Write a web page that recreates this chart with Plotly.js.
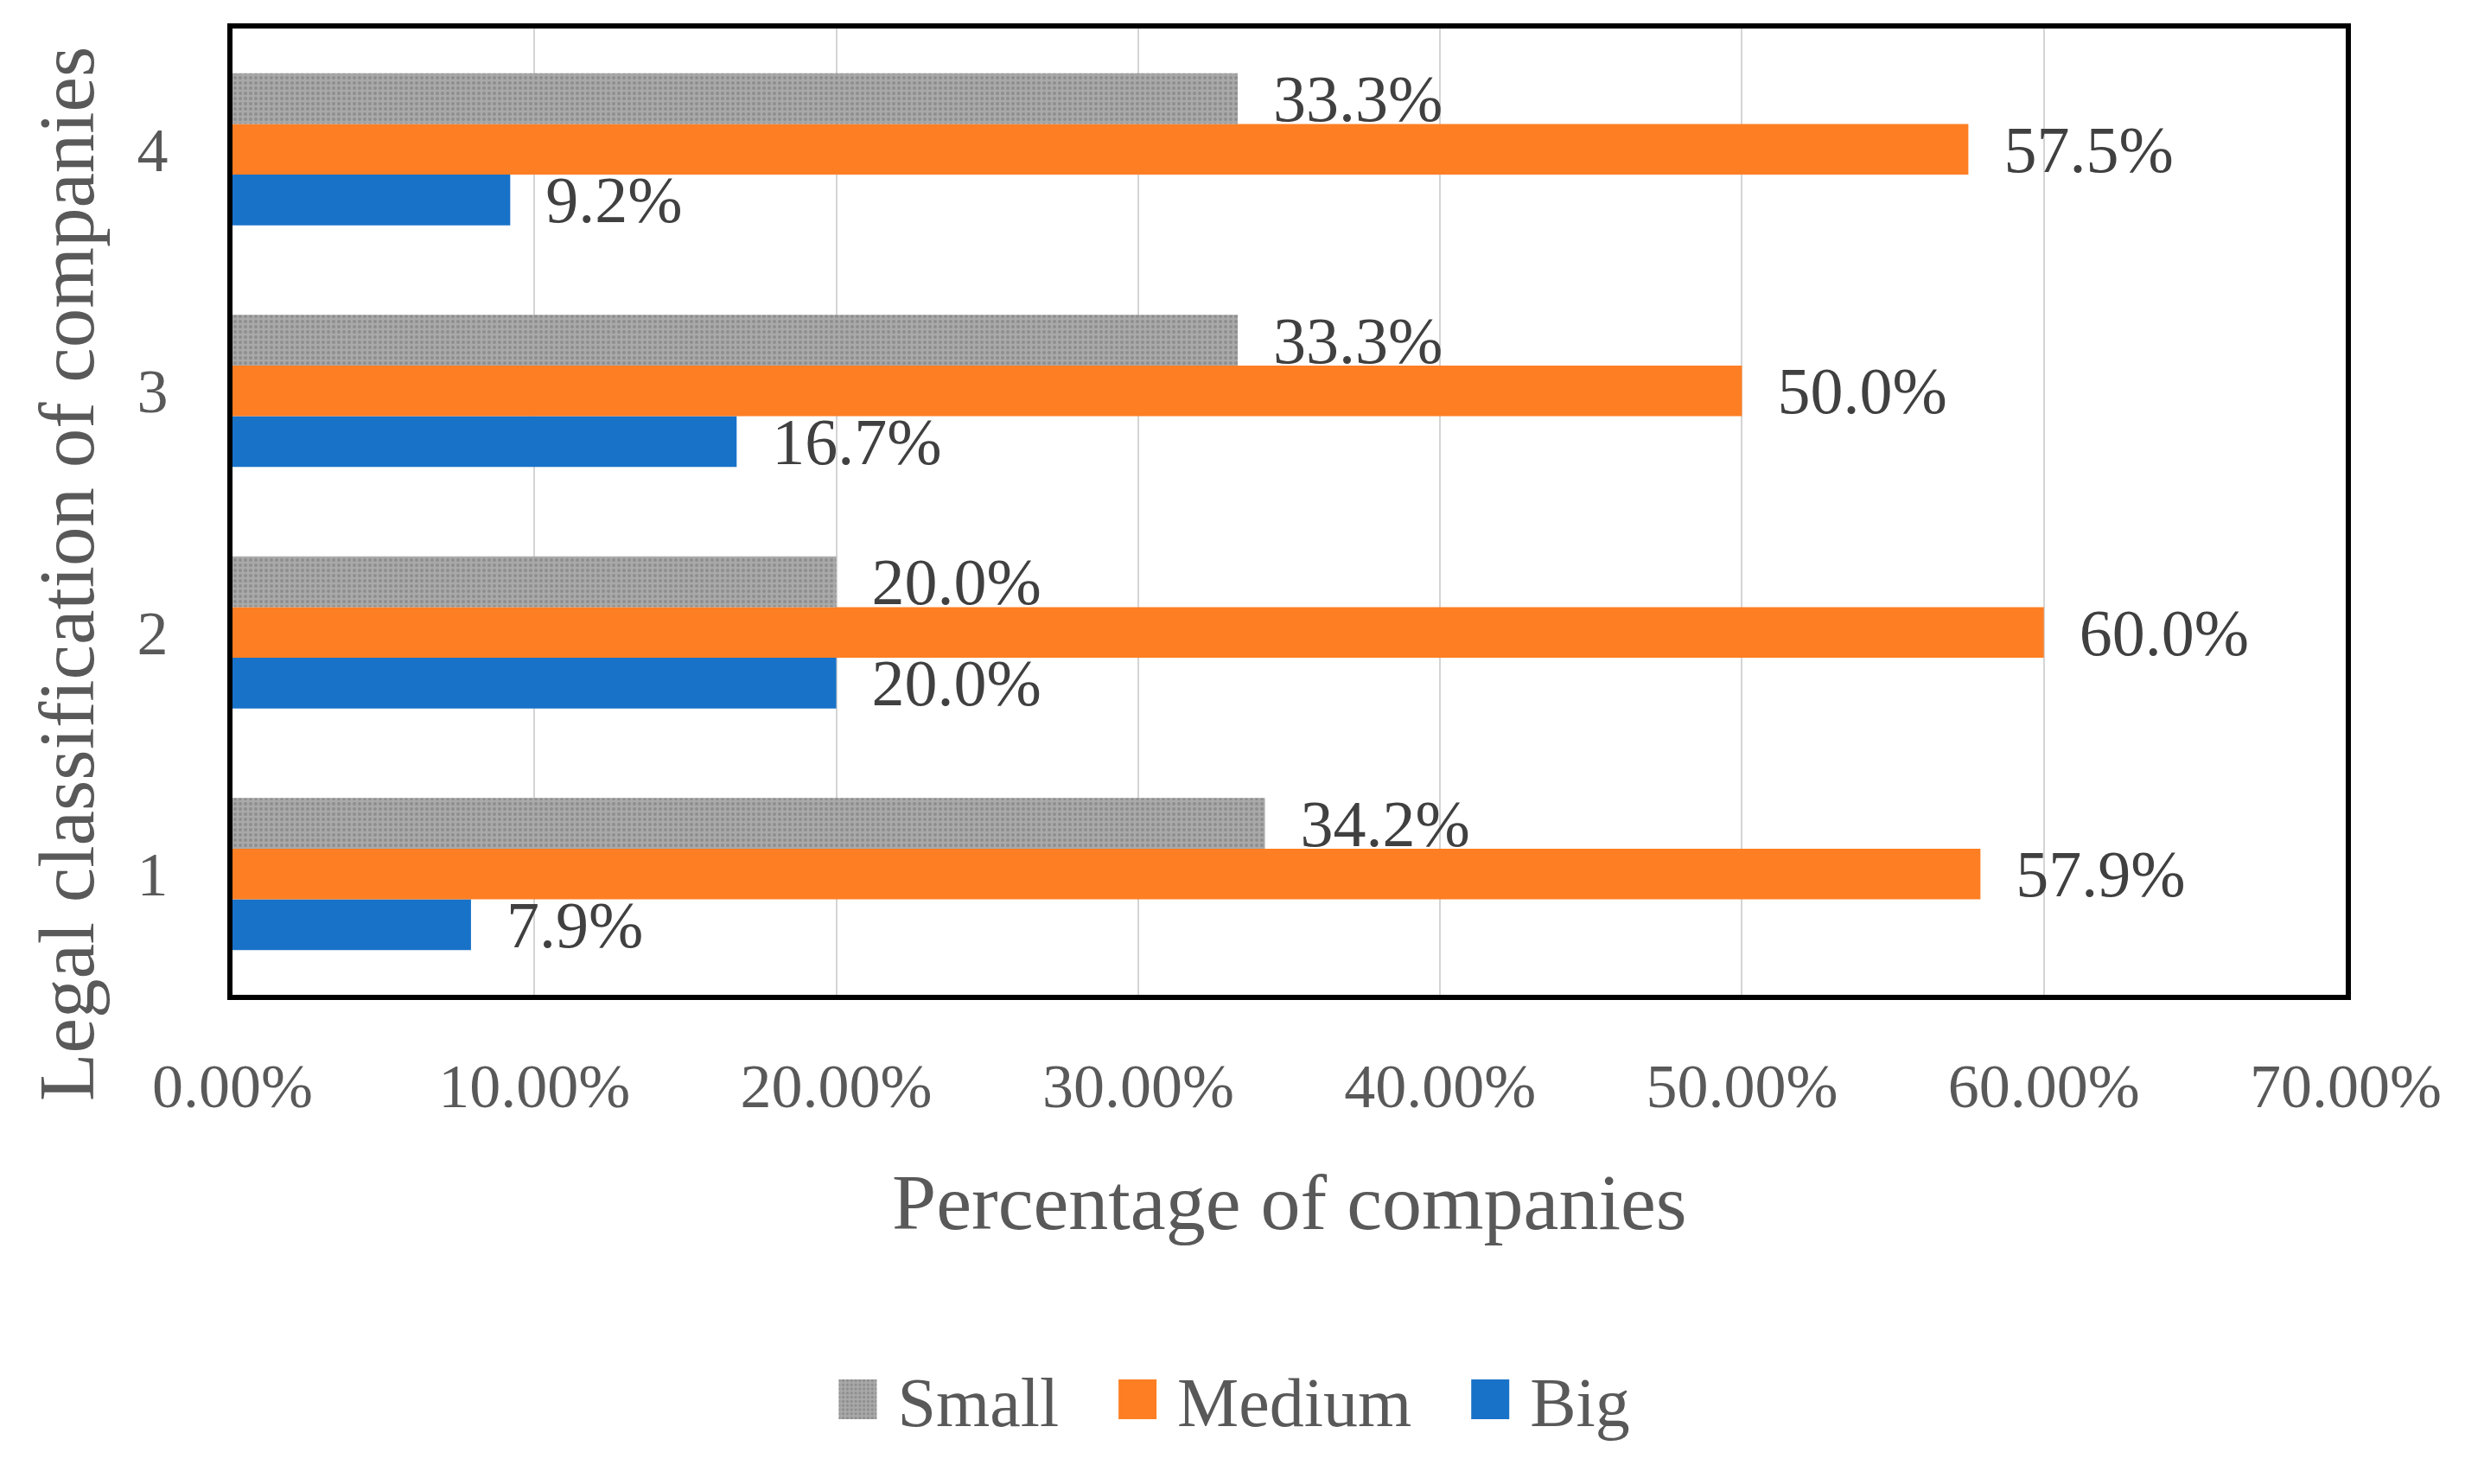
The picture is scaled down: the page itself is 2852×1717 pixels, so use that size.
<!DOCTYPE html>
<html>
<head>
<meta charset="utf-8">
<script src="https://cdn.plot.ly/plotly-3.0.1.min.js"></script>
<style>
html,body{margin:0;padding:0;background:#fff;}
#chart{width:2852px;height:1717px;}
</style>
</head>
<body>
<div id="chart"></div>
<script>
// Data
var categories = ['1', '2', '3', '4'];
var smallValues = [34.2, 20.0, 33.3, 33.3];
var mediumValues = [57.9, 60.0, 50.0, 57.5];
var bigValues = [7.9, 20.0, 16.7, 9.2];
var seriesNames = ['Small', 'Medium', 'Big'];
var xTickValues = [0, 10, 20, 30, 40, 50, 60, 70];
var xTickLabels = ['0.00%', '10.00%', '20.00%', '30.00%', '40.00%', '50.00%', '60.00%', '70.00%'];

var FONT = '"Liberation Serif", "Times New Roman", serif';
var NB = '\u00A0';

function barTrace(name, values, color, pattern) {
  var t = {
    type: 'bar',
    orientation: 'h',
    name: name + NB + NB,
    y: categories,
    x: values,
    marker: {color: color},
    texttemplate: NB + NB + '%{x:.1f}%',
    textposition: 'outside',
    textangle: 0,
    constraintext: 'none',
    cliponaxis: false,
    textfont: {family: FONT, size: 76, color: '#404040'},
    outsidetextfont: {family: FONT, size: 76, color: '#404040'},
    hoverinfo: 'x+y+name'
  };
  if (pattern) t.marker.pattern = pattern;
  return t;
}

var traces = [
  barTrace(seriesNames[2], bigValues, '#1872C8'),
  barTrace(seriesNames[1], mediumValues, '#FD7E23'),
  barTrace(seriesNames[0], smallValues, '#A5A5A5',
    {shape: '.', bgcolor: '#A9A9A9', fgcolor: '#8E8E8E', size: 6, solidity: 0.35})
];

var layout = {
  width: 2852,
  height: 1717,
  margin: {l: 269, r: 138, t: 33, b: 566},
  paper_bgcolor: '#ffffff',
  plot_bgcolor: '#ffffff',
  barmode: 'group',
  bargap: 0.37,
  bargroupgap: 0,
  showlegend: true,
  font: {family: FONT, color: '#595959'},
  xaxis: {
    range: [0, 70],
    tickmode: 'array',
    tickvals: xTickValues,
    ticktext: xTickLabels,
    showgrid: true,
    gridcolor: '#D4D4D4',
    gridwidth: 2,
    zeroline: false,
    showline: true,
    linecolor: '#000000',
    linewidth: 6,
    mirror: true,
    ticks: '',
    ticklabelstandoff: 38,
    tickfont: {family: FONT, size: 72, color: '#595959'},
    fixedrange: true
  },
  yaxis: {
    type: 'category',
    range: [-0.5, 3.5],
    showgrid: false,
    zeroline: false,
    showline: true,
    linecolor: '#000000',
    linewidth: 6,
    mirror: true,
    ticks: '',
    ticklabelstandoff: 54,
    tickfont: {family: FONT, size: 72, color: '#595959'},
    fixedrange: true
  },
  legend: {
    orientation: 'h',
    traceorder: 'reversed',
    x: 0.4785,
    xanchor: 'center',
    y: -0.4186,
    yanchor: 'middle',
    itemwidth: 82,
    font: {family: FONT, size: 80, color: '#595959'},
    bgcolor: 'rgba(0,0,0,0)'
  },
  annotations: [
    {
      text: 'Percentage of companies',
      xref: 'paper', yref: 'paper',
      x: 0.5, y: -0.2147,
      xanchor: 'center', yanchor: 'middle',
      showarrow: false,
      font: {family: FONT, size: 92, color: '#595959'}
    },
    {
      text: 'Legal classification of companies',
      xref: 'paper', yref: 'paper',
      x: -0.0781, y: 0.4356,
      xanchor: 'center', yanchor: 'middle',
      textangle: -90,
      showarrow: false,
      font: {family: FONT, size: 91, color: '#595959'}
    }
  ]
};

Plotly.newPlot('chart', traces, layout, {displayModeBar: false, staticPlot: true}).then(function (gd) {
  var pts = gd.querySelectorAll('.legend .legendpoints path');
  pts.forEach(function (p) {
    p.setAttribute('d', 'M22,23H-22V-23H22Z');
  });
});
</script>
</body>
</html>
